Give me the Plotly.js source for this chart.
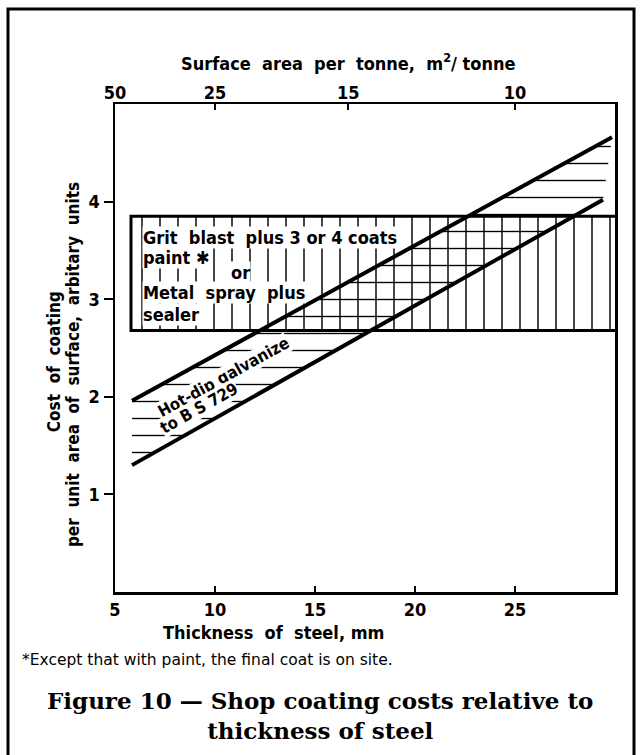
<!DOCTYPE html>
<html>
<head>
<meta charset="utf-8">
<script src="https://cdn.plot.ly/plotly-3.0.1.min.js"></script>
<style>html,body{margin:0;padding:0;background:#fff;}#chart{width:641px;height:755px;}</style>
</head>
<body>
<div id="chart"></div>
<script>
// ---- data ----
const thicknessTicks = [5, 10, 15, 20, 25];          // bottom axis, mm
const costTicks = [1, 2, 3, 4];                        // left axis
const areaLabels = [50, 25, 15, 10];                   // top axis, m2/tonne
const areaToThickness = 250;                           // thickness(mm) ~ 250 / area
// Hot-dip galvanize band (two boundary lines)
const galvUpperX = [5.85, 29.85];
const galvUpperY = [1.96, 4.66];
const galvLowerX = [5.85, 29.4];
const galvLowerY = [1.30, 4.02];
// Grit blast / metal spray band
const gritX = [5.8, 30];
const gritLow = 2.68;
const gritHigh = 3.85;

const ink = '#000';
const condensed = '"DejaVu Sans Condensed", "DejaVu Sans", sans-serif';

const traces = [
  { // vertical hatching of the grit band
    x: [gritX[0], gritX[1], gritX[1], gritX[0], gritX[0]],
    y: [gritLow, gritLow, gritHigh, gritHigh, gritLow],
    mode: 'lines', fill: 'toself', line: {width: 0, color: 'rgba(0,0,0,0)'},
    fillcolor: 'rgba(0,0,0,0)',
    fillpattern: {shape: '|', size: 18, solidity: 0.08, fgcolor: ink, bgcolor: 'rgba(0,0,0,0)'},
    hoverinfo: 'skip', showlegend: false
  },
  { // horizontal hatching of the galvanize band
    x: [galvUpperX[0], galvUpperX[1], galvLowerX[1], galvLowerX[0], galvUpperX[0]],
    y: [galvUpperY[0], galvUpperY[1], galvLowerY[1], galvLowerY[0], galvUpperY[0]],
    mode: 'lines', fill: 'toself', line: {width: 0, color: 'rgba(0,0,0,0)'},
    fillcolor: 'rgba(0,0,0,0)',
    fillpattern: {shape: '-', size: 17, solidity: 0.08, fgcolor: ink, bgcolor: 'rgba(0,0,0,0)'},
    hoverinfo: 'skip', showlegend: false
  },
  { // grit band outline
    x: [gritX[1], gritX[0], gritX[0], gritX[1]],
    y: [gritHigh, gritHigh, gritLow, gritLow],
    mode: 'lines', line: {width: 3, color: ink}, hoverinfo: 'skip', showlegend: false
  },
  { x: galvUpperX, y: galvUpperY, mode: 'lines', line: {width: 4, color: ink}, hoverinfo: 'skip', showlegend: false },
  { x: galvLowerX, y: galvLowerY, mode: 'lines', line: {width: 4, color: ink}, hoverinfo: 'skip', showlegend: false },
  { // invisible trace to activate the top axis
    x: [5, 30], y: [0, 0], xaxis: 'x2', yaxis: 'y', mode: 'markers',
    marker: {opacity: 0}, hoverinfo: 'skip', showlegend: false
  }
];

const tickFont = {family: condensed, size: 18, color: ink, weight: 'bold'};
const boxFont = {family: condensed, size: 18, color: ink, weight: 'bold'};
const galvFont = {family: condensed, size: 16.5, color: ink, weight: 'bold'};

function boxText(text, x, y) {
  return {text: text, x: x, y: y, xref: 'x', yref: 'y', xanchor: 'left', yanchor: 'middle',
          showarrow: false, font: boxFont, bgcolor: '#fff', borderpad: 0};
}
function paperText(text, x, y, font, extra) {
  return Object.assign({text: text, x: x, y: y, xref: 'paper', yref: 'paper',
          xanchor: 'center', yanchor: 'middle', showarrow: false, font: font}, extra || {});
}

const annotations = [
  boxText('Grit  blast  plus 3 or 4 coats', 6.35, 3.63),
  boxText('paint ✱', 6.35, 3.43),
  boxText('or', 10.75, 3.27),
  boxText('Metal  spray  plus', 6.35, 3.07),
  boxText('sealer', 6.35, 2.84),
  {text: 'Hot-dip galvanize', x: 10.4, y: 2.2, xref: 'x', yref: 'y', showarrow: false,
   textangle: -29, font: galvFont, bgcolor: '#fff', borderpad: 0},
  {text: 'to B S 729', x: 9.18, y: 1.885, xref: 'x', yref: 'y', showarrow: false,
   textangle: -29, font: galvFont, bgcolor: '#fff', borderpad: 0},
  paperText('Surface  area  per  tonne,  m<sup>2</sup>/ tonne', 0.466, 1.086,
            {family: condensed, size: 18, color: ink, weight: 'bold'}),
  paperText('Thickness  of  steel, mm', 0.316, -0.084,
            {family: condensed, size: 18, color: ink, weight: 'bold'}),
  paperText('Cost  of  coating', -0.122, 0.471,
            {family: condensed, size: 17, color: ink, weight: 'bold'}, {textangle: -90}),
  paperText('per  unit  area  of  surface,  arbitary  units', -0.084, 0.465,
            {family: condensed, size: 17, color: ink, weight: 'bold'}, {textangle: -90}),
  paperText('*Except that with paint, the final coat is on site.', -0.19, -0.139,
            {family: '"DejaVu Sans", sans-serif', size: 15.5, color: ink}, {xanchor: 'left'}),
  paperText('Figure 10 — Shop coating costs relative to<br>thickness of steel', 0.41, -0.254,
            {family: '"DejaVu Serif", serif', size: 23, color: ink, weight: 'bold'})
];

const shapes = [
  {type: 'rect', xref: 'paper', yref: 'paper', x0: -0.214, x1: 1.038, y0: -0.36, y1: 1.1947,
   line: {color: ink, width: 3}, fillcolor: 'rgba(0,0,0,0)', layer: 'below'}
];

const layout = {
  width: 641, height: 755,
  margin: {l: 115, r: 26, t: 104, b: 163, pad: 0},
  paper_bgcolor: '#fff', plot_bgcolor: '#fff',
  showlegend: false,
  xaxis: {
    range: [5, 30], tickmode: 'array', tickvals: thicknessTicks, ticktext: thicknessTicks.map(String),
    ticks: 'inside', ticklen: 6, tickwidth: 2, tickcolor: ink,
    showline: true, mirror: true, linewidth: 2.5, linecolor: ink,
    showgrid: false, zeroline: false, tickfont: tickFont, fixedrange: true
  },
  xaxis2: {
    overlaying: 'x', side: 'top', range: [5, 30], tickmode: 'array',
    tickvals: areaLabels.map(a => areaToThickness / a), ticktext: areaLabels.map(String),
    ticks: 'inside', ticklen: 6, tickwidth: 2, tickcolor: ink,
    showline: false, showgrid: false, zeroline: false, tickfont: tickFont, fixedrange: true
  },
  yaxis: {
    range: [0, 5], tickmode: 'array', tickvals: costTicks, ticktext: costTicks.map(String),
    ticks: 'outside', ticklen: 9, tickwidth: 2, tickcolor: ink,
    showline: true, mirror: true, linewidth: 2.5, linecolor: ink,
    showgrid: false, zeroline: false, tickfont: tickFont, fixedrange: true
  },
  annotations: annotations,
  shapes: shapes
};

Plotly.newPlot('chart', traces, layout, {staticPlot: true, displayModeBar: false});
</script>
</body>
</html>
